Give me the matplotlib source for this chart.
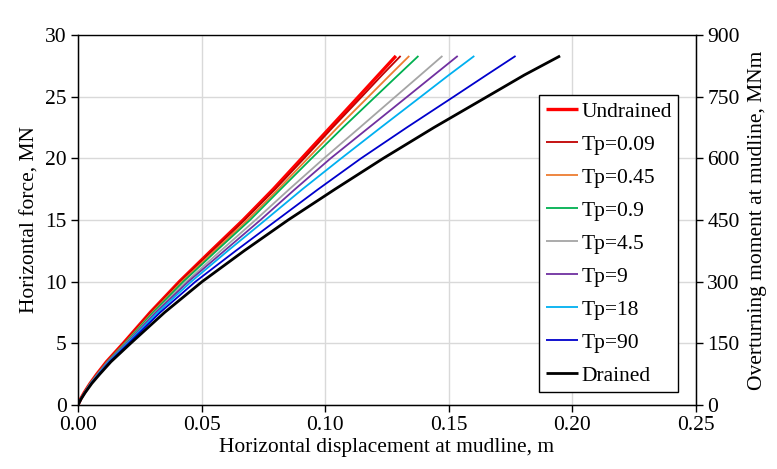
import matplotlib
matplotlib.use("Agg")
import matplotlib.pyplot as plt
from matplotlib.ticker import FormatStrFormatter, MultipleLocator

plt.rcParams['font.family'] = ['Liberation Serif', 'DejaVu Serif']
plt.rcParams['mathtext.fontset'] = 'stix'

# Horizontal force levels (MN)
force = [0, 0.5, 1, 1.75, 2.5, 3.5, 5, 7.5, 10, 12.5, 15, 17.5, 20, 22.5, 25, 26.75, 28.3]

# Horizontal displacement at mudline (m) for each case
disp_undrained = [0, 0.0011, 0.0025, 0.0049, 0.0076, 0.0115, 0.0183, 0.0292, 0.0410, 0.0538, 0.0668, 0.0790, 0.0905, 0.1020, 0.1135, 0.1215, 0.1286]
disp_tp009 = [0, 0.0011, 0.0025, 0.0049, 0.0077, 0.0116, 0.0185, 0.0295, 0.0414, 0.0543, 0.0674, 0.0798, 0.0915, 0.1030, 0.1148, 0.1230, 0.1305]
disp_tp045 = [0, 0.0011, 0.0026, 0.0050, 0.0078, 0.0118, 0.0188, 0.0300, 0.0420, 0.0552, 0.0686, 0.0810, 0.0930, 0.1050, 0.1175, 0.1262, 0.1340]
disp_tp09 = [0, 0.0011, 0.0026, 0.0050, 0.0079, 0.0119, 0.0190, 0.0304, 0.0426, 0.0560, 0.0696, 0.0820, 0.0945, 0.1072, 0.1203, 0.1295, 0.1377]
disp_tp45 = [0, 0.0012, 0.0027, 0.0051, 0.0080, 0.0121, 0.0194, 0.0311, 0.0438, 0.0577, 0.0718, 0.0855, 0.0995, 0.1140, 0.1284, 0.1385, 0.1474]
disp_tp9 = [0, 0.0012, 0.0027, 0.0052, 0.0081, 0.0122, 0.0196, 0.0315, 0.0446, 0.0592, 0.0738, 0.0878, 0.1022, 0.1177, 0.1332, 0.1440, 0.1536]
disp_tp18 = [0, 0.0012, 0.0028, 0.0053, 0.0083, 0.0125, 0.0200, 0.0322, 0.0458, 0.0606, 0.0758, 0.0908, 0.1065, 0.1225, 0.1387, 0.1500, 0.1603]
disp_tp90 = [0, 0.0012, 0.0028, 0.0054, 0.0085, 0.0128, 0.0205, 0.0332, 0.0475, 0.0638, 0.0805, 0.0972, 0.1145, 0.1330, 0.1520, 0.1652, 0.1770]
disp_drained = [0, 0.0013, 0.0029, 0.0056, 0.0088, 0.0133, 0.0213, 0.0350, 0.0502, 0.0672, 0.0850, 0.1040, 0.1235, 0.1440, 0.1655, 0.1805, 0.1950]

labels = ['Undrained', 'Tp=0.09', 'Tp=0.45', 'Tp=0.9', 'Tp=4.5', 'Tp=9', 'Tp=18', 'Tp=90', 'Drained']
series = [disp_undrained, disp_tp009, disp_tp045, disp_tp09, disp_tp45, disp_tp9, disp_tp18, disp_tp90, disp_drained]
colors = ['#FF0000', '#C00000', '#ED7D31', '#00B050', '#A5A5A5', '#7030A0', '#00B0F0', '#0000CC', '#000000']
widths = [2.4, 1.3, 1.3, 1.3, 1.3, 1.3, 1.3, 1.3, 2.0]

# Moment axis range (900 MNm corresponds to 30 MN)
moment_max = 900
force_max = 30

FS = 15.5

fig = plt.figure(figsize=(7.77, 4.69), dpi=100)
ax = fig.add_axes([0.1004, 0.1365, 0.7954, 0.7889])

for x, lab, c, lw in zip(series, labels, colors, widths):
    ax.plot(x, force, color=c, lw=lw, label=lab, solid_capstyle='butt', solid_joinstyle='round')

ax.set_xlim(0, 0.25)
ax.set_ylim(0, force_max)
ax.xaxis.set_major_locator(MultipleLocator(0.05))
ax.yaxis.set_major_locator(MultipleLocator(5))
ax.xaxis.set_major_formatter(FormatStrFormatter('%.2f'))
ax.grid(True, color='#d9d9d9', lw=1.0)
ax.set_axisbelow(True)
ax.tick_params(axis='both', direction='out', length=5, width=1, labelsize=FS, colors='black', pad=3)
ax.tick_params(axis='x', top=False)
for s in ax.spines.values():
    s.set_linewidth(1.0)
    s.set_color('black')
ax.spines['top'].set_color('#404040')

ax.set_xlabel('Horizontal displacement at mudline, m', fontsize=FS, labelpad=2)
ax.set_ylabel('Horizontal force, MN', fontsize=FS, labelpad=4)

ax2 = ax.twinx()
ax2.set_ylim(0, moment_max)
ax2.yaxis.set_major_locator(MultipleLocator(150))
ax2.tick_params(axis='y', direction='out', length=5, width=1, labelsize=FS, pad=3)
ax2.set_ylabel('Overturning moment at mudline, MNm', fontsize=FS, labelpad=6)

leg = ax.legend(loc='lower right', bbox_to_anchor=(0.971, 0.035), fontsize=FS,
                frameon=True, fancybox=False, edgecolor='black', framealpha=1,
                handlelength=1.5, handletextpad=0.15, labelspacing=0.6,
                borderpad=0.3, borderaxespad=0)
leg.get_frame().set_linewidth(1.0)

fig.savefig('out.png', dpi=100)
